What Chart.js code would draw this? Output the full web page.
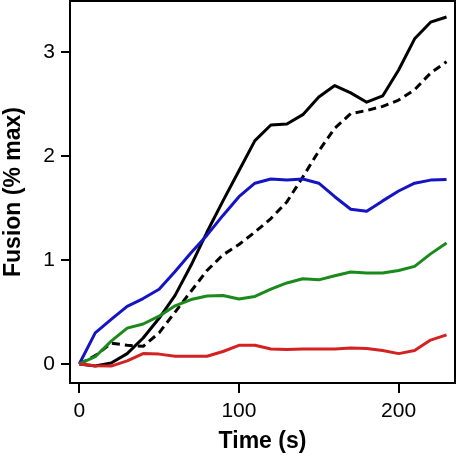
<!DOCTYPE html>
<html>
<head>
<meta charset="utf-8">
<script src="https://cdn.jsdelivr.net/npm/chart.js@4/dist/chart.umd.min.js"></script>
<style>
  html, body { margin: 0; padding: 0; background: #fff; }
  #wrap { width: 458px; height: 458px; }
</style>
</head>
<body>
<div id="wrap"><canvas id="myChart" width="458" height="458"></canvas></div>
<script>
'use strict';

// time points (s)
var times = [0, 10, 20, 30, 40, 50, 60, 70, 80, 90, 100, 110, 120, 130, 140, 150, 160, 170, 180, 190, 200, 210, 220, 230];

var blackSolid = [0, -0.02, 0.01, 0.1, 0.25, 0.44, 0.66, 0.95, 1.27, 1.57, 1.86, 2.15, 2.3, 2.31, 2.4, 2.57, 2.68, 2.61, 2.52, 2.58, 2.83, 3.13, 3.29, 3.34];
var blackDashed = [0, 0.08, 0.2, 0.18, 0.17, 0.3, 0.5, 0.7, 0.9, 1.05, 1.15, 1.27, 1.4, 1.56, 1.8, 2.05, 2.27, 2.41, 2.44, 2.48, 2.54, 2.64, 2.8, 2.91];
var blue = [0, 0.3, 0.43, 0.555, 0.63, 0.72, 0.89, 1.07, 1.24, 1.43, 1.61, 1.74, 1.78, 1.77, 1.78, 1.74, 1.61, 1.49, 1.47, 1.57, 1.665, 1.74, 1.77, 1.775];
var green = [0, 0.07, 0.22, 0.345, 0.385, 0.46, 0.56, 0.62, 0.655, 0.66, 0.625, 0.65, 0.72, 0.78, 0.82, 0.81, 0.85, 0.885, 0.875, 0.875, 0.9, 0.94, 1.06, 1.165];
var red = [0, -0.016, -0.02, 0.03, 0.1, 0.095, 0.075, 0.075, 0.075, 0.12, 0.18, 0.18, 0.145, 0.14, 0.145, 0.145, 0.145, 0.155, 0.15, 0.13, 0.1, 0.13, 0.23, 0.28];

var xTicks = [0, 100, 200];
var yTicks = [0, 1, 2, 3];

function pts(vals) {
    return vals.map(function (v, i) { return {x: times[i], y: v}; });
}

function series(vals, color, dash) {
    return {
        data: pts(vals),
        borderColor: color,
        borderWidth: 3,
        borderDash: dash || [],
        borderJoinStyle: 'round',
        pointRadius: 0,
        tension: 0,
        fill: false
    };
}

function noPad(s) {
    s.paddingTop = 0;
    s.paddingBottom = 0;
    s.paddingLeft = 0;
    s.paddingRight = 0;
}

// box around the plot area
var frame = {
    id: 'frame',
    afterDraw: function (chart) {
        var a = chart.chartArea, c = chart.ctx;
        c.save();
        c.strokeStyle = '#000';
        c.lineWidth = 2;
        c.strokeRect(a.left, a.top, a.right - a.left, a.bottom - a.top);
        c.restore();
    }
};

const ctx = document.getElementById('myChart');

new Chart(ctx, {
    type: 'line',
    data: {
        datasets: [
            series(red, '#d42222'),
            series(green, '#1a8a1a'),
            series(blue, '#1414c4'),
            series(blackDashed, '#000', [8, 5]),
            series(blackSolid, '#000')
        ]
    },
    options: {
        responsive: false,
        animation: false,
        layout: { padding: {top: 1, right: 3, left: 0, bottom: 0} },
        plugins: { legend: {display: false}, tooltip: {enabled: false} },
        scales: {
            x: {
                type: 'linear',
                min: -5.8,
                max: 235.3,
                afterBuildTicks: function (s) { s.ticks = xTicks.map(function (v) { return {value: v}; }); },
                afterFit: function (s) { s.height = 75; noPad(s); },
                ticks: { color: '#000', font: {family: 'Liberation Sans, Arial', size: 21}, padding: 6, maxRotation: 0 },
                grid: { drawOnChartArea: false, drawTicks: true, tickLength: 10, color: '#000', lineWidth: 2 },
                border: { display: true, color: '#000', width: 2 },
                title: { display: true, text: 'Time (s)', color: '#000', font: {family: 'Liberation Sans, Arial', size: 23, weight: 'bold'}, padding: {top: 0, bottom: 3} }
            },
            y: {
                min: -0.183,
                max: 3.494,
                afterBuildTicks: function (s) { s.ticks = yTicks.map(function (v) { return {value: v}; }); },
                afterFit: function (s) { s.width = 70; noPad(s); },
                ticks: { color: '#000', font: {family: 'Liberation Sans, Arial', size: 21}, padding: 6 },
                grid: { drawOnChartArea: false, drawTicks: true, tickLength: 9, color: '#000', lineWidth: 2 },
                border: { display: true, color: '#000', width: 2 },
                title: { display: true, text: 'Fusion (% max)', color: '#000', font: {family: 'Liberation Sans, Arial', size: 23, weight: 'bold'}, padding: {top: 0, bottom: 0} }
            }
        }
    },
    plugins: [frame]
});
</script>
</body>
</html>
